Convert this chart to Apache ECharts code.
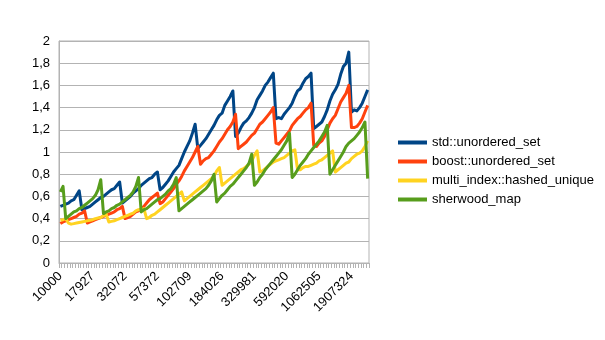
<!DOCTYPE html>
<html>
<head>
<meta charset="utf-8">
<script src="https://cdn.jsdelivr.net/npm/echarts@6/dist/echarts.min.js"></script>
<style>
  html, body { margin: 0; padding: 0; background: #ffffff; }
  #chart { width: 605px; height: 340px; }
</style>
</head>
<body>
<div id="chart"></div>
<script>
// Container sizes (number of elements) for each measurement
const sizes = [
  10000, 10498, 11022, 11572, 12149, 12755, 13391, 14059, 14760, 15496, 16269, 17080,
  17927, 18817, 19752, 20733, 21763, 22844, 23978, 25169, 26419, 27731, 29108, 30554,
  32072, 33665, 35337, 37092, 38934, 40867, 42896, 45026, 47262, 49609, 52073, 54659,
  57372, 60225, 63220, 66364, 69664, 73128, 76764, 80581, 84588, 88794, 93209, 97844,
  102709, 107824, 113193, 118830, 124747, 130959, 137480, 144326, 151513, 159058, 166978, 175293,
  184026, 193203, 202837, 212952, 223571, 234720, 246425, 258713, 271615, 285160, 299380, 314309,
  329981, 346452, 363745, 381902, 400964, 420978, 441991, 464053, 487216, 511536, 537070, 563878,
  592020, 621588, 652633, 685229, 719452, 755384, 793111, 832722, 874312, 917979, 963827, 1011965,
  1062505, 1115592, 1171332, 1229857, 1291306, 1355825, 1423567, 1494693, 1569374, 1647787, 1730118, 1816562,
  1907324, 2002626, 2102690, 2207754, 2318067, 2433893, 2555505
];

// Lookup times per container
const stdUnorderedSet = [
  0.51, 0.52, 0.53, 0.54, 0.56, 0.57, 0.61, 0.65,
  0.48, 0.49, 0.50, 0.51, 0.53, 0.55, 0.57, 0.59, 0.60, 0.62, 0.64, 0.66, 0.67, 0.70, 0.73,
  0.54, 0.56, 0.58, 0.60, 0.63, 0.65, 0.67, 0.70, 0.72, 0.74, 0.76, 0.77, 0.80, 0.82,
  0.66, 0.68, 0.71, 0.74, 0.78, 0.82, 0.85, 0.88, 0.94, 1.00, 1.05, 1.10, 1.17, 1.25,
  1.03, 1.06, 1.09, 1.12, 1.16, 1.20, 1.24, 1.29, 1.33, 1.35, 1.42, 1.46, 1.50, 1.55,
  1.14, 1.17, 1.22, 1.26, 1.28, 1.31, 1.35, 1.40, 1.47, 1.51, 1.55, 1.60, 1.63, 1.67, 1.71,
  1.30, 1.31, 1.30, 1.34, 1.37, 1.40, 1.44, 1.50, 1.55, 1.57, 1.62, 1.66, 1.68, 1.71,
  1.21, 1.23, 1.25, 1.27, 1.32, 1.38, 1.46, 1.52, 1.56, 1.61, 1.70, 1.77, 1.80, 1.90,
  1.36, 1.38, 1.37, 1.40, 1.44, 1.50, 1.56
];

const boostUnorderedSet = [
  0.355, 0.37, 0.38, 0.39, 0.40, 0.41, 0.42, 0.44, 0.45, 0.47,
  0.36, 0.37, 0.38, 0.39, 0.40, 0.41, 0.42, 0.43, 0.44, 0.45, 0.46, 0.48, 0.49, 0.51,
  0.40, 0.41, 0.42, 0.44, 0.46, 0.47, 0.49, 0.51, 0.54, 0.57, 0.59, 0.61, 0.63,
  0.535, 0.55, 0.58, 0.61, 0.64, 0.67, 0.71, 0.74, 0.78, 0.83, 0.87, 0.91, 0.95, 1.00, 1.05,
  0.89, 0.92, 0.94, 0.95, 0.98, 1.01, 1.05, 1.09, 1.12, 1.16, 1.20, 1.23, 1.27, 1.34,
  1.03, 1.05, 1.07, 1.09, 1.12, 1.15, 1.17, 1.21, 1.25, 1.27, 1.30, 1.33, 1.36, 1.40,
  1.08, 1.07, 1.10, 1.13, 1.16, 1.19, 1.24, 1.27, 1.30, 1.32, 1.35, 1.38, 1.40, 1.44,
  1.06, 1.05, 1.08, 1.10, 1.14, 1.20, 1.26, 1.30, 1.33, 1.39, 1.45, 1.49, 1.53, 1.60,
  1.22, 1.22, 1.23, 1.26, 1.30, 1.36, 1.42
];

const multiIndexHashedUnique = [
  0.385, 0.39, 0.40,
  0.36, 0.35, 0.355, 0.36, 0.365, 0.37, 0.375, 0.38, 0.385, 0.39, 0.40, 0.405, 0.41, 0.425, 0.44,
  0.37, 0.375, 0.38, 0.39, 0.40, 0.41, 0.42, 0.43, 0.44, 0.45, 0.47, 0.48, 0.48, 0.49,
  0.40, 0.41, 0.43, 0.44, 0.46, 0.48, 0.50, 0.52, 0.54, 0.56, 0.58, 0.60, 0.62, 0.64,
  0.56, 0.58, 0.60, 0.62, 0.64, 0.66, 0.68, 0.70, 0.72, 0.74, 0.76, 0.78, 0.83, 0.86,
  0.70, 0.72, 0.74, 0.76, 0.78, 0.80, 0.82, 0.84, 0.85, 0.87, 0.89, 0.92, 0.97, 1.01,
  0.82, 0.83, 0.85, 0.87, 0.89, 0.91, 0.92, 0.93, 0.94, 0.95, 0.97, 0.99, 1.01, 1.02,
  0.84, 0.84, 0.86, 0.87, 0.87, 0.88, 0.89, 0.90, 0.92, 0.93, 0.95, 0.97, 0.99, 1.01,
  0.82, 0.84, 0.86, 0.88, 0.90, 0.91, 0.94, 0.96, 0.98, 0.99, 1.01, 1.05, 1.10
];

const sherwoodMap = [
  0.64, 0.69,
  0.40, 0.42, 0.44, 0.46, 0.47, 0.49, 0.50, 0.52, 0.54, 0.56, 0.58, 0.61, 0.66, 0.75,
  0.445, 0.46, 0.47, 0.49, 0.50, 0.52, 0.53, 0.55, 0.57, 0.59, 0.61, 0.64, 0.69, 0.77,
  0.46, 0.48, 0.49, 0.51, 0.53, 0.55, 0.57, 0.58, 0.60, 0.62, 0.65, 0.67, 0.71, 0.77,
  0.47, 0.49, 0.51, 0.53, 0.55, 0.57, 0.59, 0.61, 0.63, 0.65, 0.67, 0.70, 0.74, 0.80,
  0.55, 0.58, 0.61, 0.63, 0.66, 0.69, 0.71, 0.74, 0.77, 0.80, 0.83, 0.86, 0.90, 0.98,
  0.70, 0.73, 0.77, 0.80, 0.84, 0.87, 0.90, 0.93, 0.96, 0.99, 1.02, 1.06, 1.10, 1.17,
  0.77, 0.80, 0.84, 0.88, 0.91, 0.94, 0.98, 1.01, 1.04, 1.07, 1.10, 1.14, 1.18, 1.24,
  0.80, 0.84, 0.88, 0.92, 0.96, 1.00, 1.05, 1.08, 1.10, 1.12, 1.15, 1.18, 1.22, 1.27, 0.76
];

const seriesNames = [
  'std::unordered_set',
  'boost::unordered_set',
  'multi_index::hashed_unique',
  'sherwood_map'
];
const seriesColors = ['#004586', '#ff420e', '#ffd320', '#579d1c'];
const seriesValues = [stdUnorderedSet, boostUnorderedSet, multiIndexHashedUnique, sherwoodMap];

const font = 'Liberation Sans, Arial, sans-serif';
const gridColor = '#b3b3b3';

const chart = echarts.init(document.getElementById('chart'), null, { renderer: 'canvas' });

chart.setOption({
  animation: false,
  backgroundColor: '#ffffff',
  textStyle: { fontFamily: font },
  grid: {
    left: 59, right: 236, top: 41, bottom: 77,
    show: true, borderColor: gridColor, borderWidth: 1,
    backgroundColor: 'transparent'
  },
  legend: {
    orient: 'vertical',
    left: 398,
    top: 135,
    padding: 0,
    itemWidth: 29,
    itemHeight: 4,
    itemGap: 4,
    icon: 'rect',
    textStyle: { fontFamily: font, fontSize: 13, color: '#000000', lineHeight: 15 },
    data: seriesNames
  },
  xAxis: {
    type: 'category',
    data: sizes,
    boundaryGap: true,
    axisLine: { show: true, lineStyle: { color: gridColor, width: 1 } },
    axisTick: { show: true, interval: 0, length: 5, lineStyle: { color: gridColor, width: 1 } },
    axisLabel: {
      interval: 11,
      rotate: 45,
      margin: 11,
      fontFamily: font,
      fontSize: 13,
      color: '#000000'
    },
    splitLine: { show: false }
  },
  yAxis: {
    type: 'value',
    min: 0,
    max: 2,
    interval: 0.2,
    axisLine: { show: true, lineStyle: { color: gridColor, width: 1 } },
    axisTick: { show: false },
    axisLabel: {
      margin: 9,
      fontFamily: font,
      fontSize: 13,
      color: '#000000',
      formatter: v => String(+v.toFixed(1)).replace('.', ',')
    },
    splitLine: { show: true, lineStyle: { color: gridColor, width: 1 } }
  },
  series: seriesNames.map((name, k) => ({
    name,
    type: 'line',
    data: seriesValues[k],
    showSymbol: false,
    symbol: 'none',
    color: seriesColors[k],
    lineStyle: { width: 3, color: seriesColors[k], join: 'round' },
    emphasis: { disabled: true }
  }))
});
</script>
</body>
</html>
